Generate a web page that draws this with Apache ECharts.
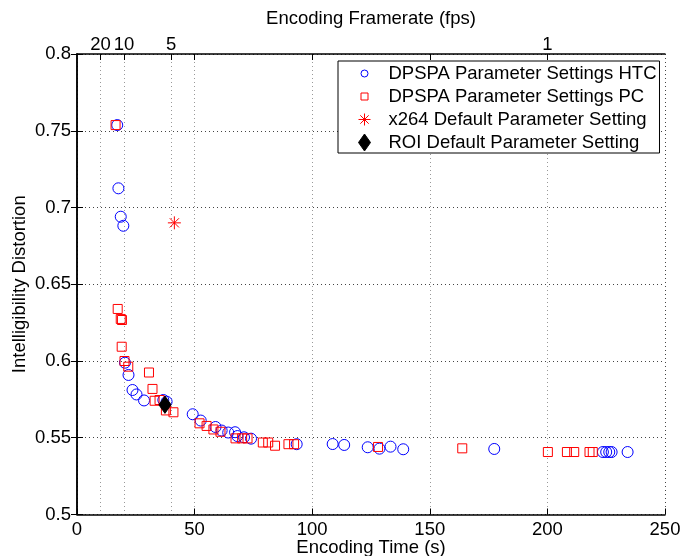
<!DOCTYPE html>
<html><head><meta charset="utf-8">
<script src="https://cdn.jsdelivr.net/npm/echarts@6/dist/echarts.min.js"></script>
<style>html,body{margin:0;padding:0;background:#fff}#c{width:692px;height:556px}</style>
</head><body><div id="c"></div>
<script>
// ---- data ----
const htcTime = [17.1,17.6,18.6,19.7,20.4,21.9,23.6,25.3,28.5,36.7,38.1,49.2,52.6,58.9,61.5,64.3,67.2,68.2,71.0,74.0,93.4,108.7,113.6,123.6,128.6,133.3,138.7,177.4,223.6,225.0,226.3,227.3,234.1];
const htcDist = [0.7537,0.7125,0.694,0.6881,0.5989,0.5909,0.5811,0.5782,0.5743,0.5746,0.5735,0.5653,0.5612,0.5570,0.5547,0.5534,0.5536,0.5511,0.5503,0.5494,0.5458,0.5459,0.5453,0.5438,0.5429,0.5442,0.5425,0.5427,0.5407,0.5407,0.5407,0.5407,0.5407];
const pcTime = [16.4,17.3,18.6,19.1,19.0,20.2,21.8,30.6,32.1,33.0,35.1,37.8,41.0,52.1,55.1,58.0,61.0,67.4,70.2,72.5,79.0,81.3,84.2,89.9,92.3,128.0,163.8,200.2,208.3,211.4,217.9,219.3];
const pcDist = [0.7537,0.6339,0.6274,0.6267,0.6093,0.6000,0.5963,0.5925,0.5818,0.5741,0.5746,0.5678,0.5666,0.5594,0.5577,0.5554,0.5539,0.5496,0.5496,0.5496,0.5469,0.5469,0.5448,0.5458,0.5458,0.5440,0.5431,0.5407,0.5407,0.5407,0.5407,0.5407];
const x264Time = [41.4];
const x264Dist = [0.690];
const roiTime = [37.4];
const roiDist = [0.5715];

const seriesNames = ['DPSPA Parameter Settings HTC','DPSPA Parameter Settings PC','x264 Default Parameter Setting','ROI Default Parameter Setting'];

// x axis ticks (Encoding Time, s) and top axis (Encoding Framerate, fps)
const timeTicks = [0,50,100,150,200,250];
const fpsLabels = ['20','10','5','1'];
const fpsLabelTimes = [10,20,40,200];
const topTickTimes = [10,20,40,50,100,150,200];
const yTicks = [0.5,0.55,0.6,0.65,0.7,0.75,0.8];

const zip = (a,b) => a.map((v,i)=>[v,b[i]]);
const FONT = 'Liberation Sans, Arial, Helvetica, sans-serif';
const FS = 18.5;

const starPath = 'path://M10,0 L10,20 M0,10 L20,10 M2.93,2.93 L17.07,17.07 M2.93,17.07 L17.07,2.93';
const legCircle = 'path://M0,0 M20,20 M13.5,10 A3.5,3.5 0 1 1 6.5,10 A3.5,3.5 0 1 1 13.5,10 Z';
const legSquare = 'path://M0,0 M20,20 M6.5,6.5 L13.5,6.5 L13.5,13.5 L6.5,13.5 Z';
const legStar = 'path://M0,0 M20,20 M10,4 L10,16 M4,10 L16,10 M5.8,5.8 L14.2,14.2 M5.8,14.2 L14.2,5.8';
const legDiamond = 'path://M0,0 M20,20 M10,1.5 L16,10 L10,18.5 L4,10 Z';

const chart = echarts.init(document.getElementById('c'), null, {renderer:'canvas'});
const axisLine = {show:true, lineStyle:{color:'#000', width:1.5}};
const option = {
  backgroundColor:'#fff',
  animation:false,
  textStyle:{fontFamily:FONT},
  grid:{left:77, right:27, top:54, bottom:41.5, containLabel:false, outerBoundsMode:'none'},
  legend:{
    orient:'vertical', left:338, top:61,
    padding:[2,3,0,16],
    itemWidth:38, itemHeight:20, itemGap:2,
    borderColor:'#000', borderWidth:1, backgroundColor:'#fff',
    textStyle:{fontSize:FS, color:'#000', fontFamily:FONT},
    itemStyle:{borderWidth:1},
    data:[
      {name:seriesNames[0], icon:legCircle},
      {name:seriesNames[1], icon:legSquare},
      {name:seriesNames[2], icon:legStar},
      {name:seriesNames[3], icon:legDiamond}
    ]
  },
  xAxis:[
    {type:'value', position:'bottom', min:0, max:250, interval:50,
     name:'Encoding Time (s)', nameLocation:'middle', nameGap:24, nameMoveOverlap:false,
     nameTextStyle:{fontSize:FS, color:'#000', fontFamily:FONT},
     axisLine:axisLine,
     axisTick:{show:true, inside:true, length:6, lineStyle:{color:'#000'}},
     axisLabel:{fontSize:FS, color:'#000', margin:6, fontFamily:FONT,
       customValues:timeTicks},
     splitLine:{show:true, lineStyle:{color:'#444', type:[1,3], width:1}}
    },
    {type:'value', position:'top', min:0, max:250,
     name:'Encoding Framerate (fps)', nameLocation:'middle', nameGap:26, nameMoveOverlap:false,
     nameTextStyle:{fontSize:FS, color:'#000', fontFamily:FONT},
     axisLine:axisLine,
     axisTick:{show:true, inside:true, length:6, lineStyle:{color:'#000'}, customValues:topTickTimes},
     axisLabel:{fontSize:FS, color:'#000', margin:0, fontFamily:FONT,
       customValues:fpsLabelTimes,
       formatter:(v)=>{const i=fpsLabelTimes.indexOf(v); return i>=0?fpsLabels[i]:'';}},
     splitLine:{show:true, lineStyle:{color:'#999', type:[1,3], width:1}}
    }
  ],
  yAxis:[
    {type:'value', position:'left', min:0.5, max:0.8, interval:0.05,
     name:'Intelligibility Distortion', nameLocation:'middle', nameGap:48, nameMoveOverlap:false,
     nameTextStyle:{fontSize:FS, color:'#000', fontFamily:FONT},
     axisLine:axisLine,
     axisTick:{show:true, inside:true, length:6, lineStyle:{color:'#000'}},
     axisLabel:{fontSize:FS, color:'#000', margin:6, fontFamily:FONT,
       customValues:yTicks, formatter:(v)=>String(+v.toFixed(2))},
     splitLine:{show:true, lineStyle:{color:'#444', type:[1,3], width:1}}
    },
    {type:'value', position:'right', min:0.5, max:0.8, interval:0.05,
     axisLine:axisLine,
     axisTick:{show:true, inside:true, length:6, lineStyle:{color:'#000'}},
     axisLabel:{show:false}, splitLine:{show:false}
    }
  ],
  series:[
    {name:seriesNames[0], type:'scatter', xAxisIndex:0, yAxisIndex:0,
     symbol:'circle', symbolSize:11,
     itemStyle:{color:'rgba(0,0,0,0)', borderColor:'#0000ff', borderWidth:1, opacity:1},
     emphasis:{disabled:true},
     data:zip(htcTime, htcDist)},
    {name:seriesNames[1], type:'scatter', xAxisIndex:0, yAxisIndex:0,
     symbol:'rect', symbolSize:9,
     itemStyle:{color:'rgba(0,0,0,0)', borderColor:'#ff0000', borderWidth:1, opacity:1},
     emphasis:{disabled:true},
     data:zip(pcTime, pcDist)},
    {name:seriesNames[2], type:'scatter', xAxisIndex:0, yAxisIndex:0,
     symbol:starPath, symbolSize:13,
     itemStyle:{color:'rgba(0,0,0,0)', borderColor:'#ff0000', borderWidth:1, opacity:1},
     emphasis:{disabled:true},
     data:zip(x264Time, x264Dist)},
    {name:seriesNames[3], type:'scatter', xAxisIndex:0, yAxisIndex:0,
     symbol:'diamond', symbolSize:[12,17],
     itemStyle:{color:'#000', borderColor:'#000', borderWidth:1, opacity:1},
     emphasis:{disabled:true},
     data:zip(roiTime, roiDist)}
  ]
};
chart.setOption(option);
</script>
</body></html>
